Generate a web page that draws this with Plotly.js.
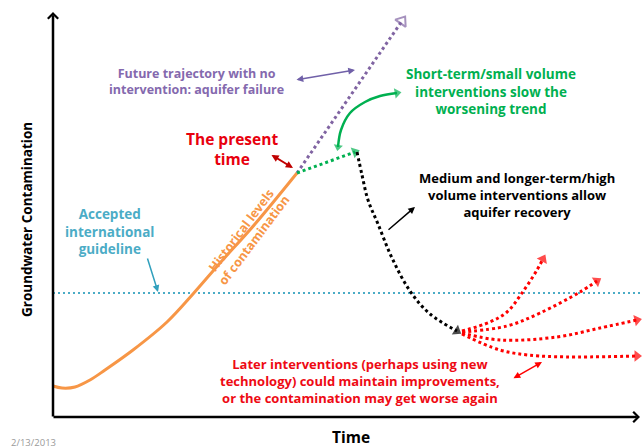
<!DOCTYPE html>
<html>
<head>
<meta charset="utf-8">
<script src="https://cdn.plot.ly/plotly-3.0.1.min.js"></script>
<style>html,body{margin:0;padding:0;background:#fff;}#chart{width:642px;height:448px;}</style>
</head>
<body>
<div id="chart"></div>
<script>
// Conceptual chart: time (x) vs groundwater contamination (y), arbitrary units from the axes origin
const historyTime  = [0, 9, 22, 37, 52, 80, 114, 140, 167, 202, 244];
const historyLevel = [31, 29, 30, 37, 47, 67, 95, 123, 154, 193, 244];

const guidelineTime  = [0, 589];
const guidelineLevel = [124, 124];

const noActionTime  = [244, 349];
const noActionLevel = [244, 396];

const shortTermTime  = [244, 302];
const shortTermLevel = [244, 265];

const recoveryTime  = [304, 309, 315, 325, 339, 357, 377, 404];
const recoveryLevel = [265, 242, 217, 193, 159, 126, 103, 86];

const laterA_Time  = [409, 437, 454, 469, 484, 490];
const laterA_Level = [86, 95, 105, 124, 147, 158];
const laterB_Time  = [409, 454, 487, 527, 544];
const laterB_Level = [85, 91, 104, 125, 136];
const laterC_Time  = [409, 447, 504, 547, 584];
const laterC_Level = [84, 77, 80, 89, 97];
const laterD_Time  = [409, 447, 487, 584];
const laterD_Level = [83, 67, 61, 61];

const greenHookTime  = [285, 288, 297, 312, 327, 344];
const greenHookLevel = [270, 287, 304, 315, 321, 324];

const labels = {
  future: 'Future trajectory with no<br>intervention: aquifer failure',
  shortTerm: 'Short-term/small volume<br>interventions slow the<br>worsening trend',
  present: 'The present<br>time',
  medium: 'Medium and longer-term/high<br>volume interventions allow<br>aquifer recovery',
  guideline: 'Accepted<br>international<br>guideline',
  history: 'Historical levels<br>of contamination',
  later: 'Later interventions (perhaps using new<br>technology) could maintain improvements,<br>or the contamination may get worse again',
  yTitle: 'Groundwater Contamination',
  xTitle: 'Time',
  date: '2/13/2013'
};

const C = {
  orange: '#f79646', blue: '#4bacc6', blueDark: '#31a0bd', purple: '#8064a2',
  green: '#00b050', red: '#ff0000', darkRed: '#c00000', black: '#000000'
};
const FONT = '"Open Sans", Lato, sans-serif';

function line(xs, ys, color, width, dash, shape) {
  return {x: xs, y: ys, mode: 'lines', type: 'scatter', hoverinfo: 'skip',
    line: {color: color, width: width, dash: dash || 'solid', shape: shape || 'linear', smoothing: 1}};
}
function head(xs, ys, color, size, symbol) {
  const n = xs.length;
  return {x: [xs[n-2], xs[n-1]], y: [ys[n-2], ys[n-1]], mode: 'markers', type: 'scatter', hoverinfo: 'skip',
    marker: {symbol: symbol || 'triangle-up', size: [0, size], color: color, angleref: 'previous',
      line: {color: color, width: symbol && symbol.indexOf('open') >= 0 ? 2 : 0}}};
}

const dotRed = '3px,3px';
const traces = [
  line(guidelineTime, guidelineLevel, C.blue, 2, '2px,3px'),
  line(historyTime, historyLevel, C.orange, 3, 'solid', 'spline'),
  line(noActionTime, noActionLevel, C.purple, 3, '3px,3px'),
  head(noActionTime, noActionLevel, C.purple, 11, 'triangle-up-open'),
  line(shortTermTime, shortTermLevel, C.green, 3, '3px,3px'),
  head(shortTermTime, shortTermLevel, C.green, 10),
  line(recoveryTime, recoveryLevel, C.black, 3, '3px,3px', 'spline'),
  head(recoveryTime, recoveryLevel, C.black, 10),
  line(laterA_Time, laterA_Level, C.red, 3, dotRed, 'spline'),
  head(laterA_Time, laterA_Level, C.red, 10),
  line(laterB_Time, laterB_Level, C.red, 3, dotRed, 'spline'),
  head(laterB_Time, laterB_Level, C.red, 10),
  line(laterC_Time, laterC_Level, C.red, 3, dotRed, 'spline'),
  head(laterC_Time, laterC_Level, C.red, 10),
  line(laterD_Time, laterD_Level, C.red, 3, dotRed, 'spline'),
  head(laterD_Time, laterD_Level, C.red, 10),
  line(greenHookTime, greenHookLevel, C.green, 2.5, 'solid', 'spline'),
  head(greenHookTime, greenHookLevel, C.green, 9),
  head(greenHookTime.slice(0,2).reverse(), greenHookLevel.slice(0,2).reverse(), C.green, 8)
];

function arrow(x0, y0, x1, y1, color, width, headStyle, size, both) {
  return {x: x1, y: y1, ax: x0, ay: y0, xref: 'x', yref: 'y', axref: 'x', ayref: 'y', text: '',
    showarrow: true, arrowcolor: color, arrowwidth: width, arrowhead: headStyle, arrowsize: size,
    arrowside: both ? 'end+start' : 'end', startarrowhead: headStyle, startarrowsize: size};
}
function text(x, y, t, color, size, extra) {
  return Object.assign({x: x, y: y, xref: 'x', yref: 'y', text: '<b>' + t.split('<br>').join('</b><br><b>') + '</b>', showarrow: false,
    font: {family: FONT, size: size, color: color, weight: 'bold'}, align: 'center',
    xanchor: 'center', yanchor: 'middle'}, extra || {});
}

const annotations = [
  arrow(0, -1, 0, 405, C.black, 2.5, 4, 0.8),
  arrow(-1, 0, 587, 0, C.black, 2.5, 4, 0.8),
  arrow(242, 337, 302, 347, '#7060a8', 1.5, 2, 0.9, true),
  arrow(217, 263, 240, 249, C.darkRed, 1.8, 2, 0.8, true),
  arrow(334, 186, 362, 210, C.black, 1.5, 2, 0.9),
  arrow(459, 38, 489, 55, C.red, 1.5, 2, 0.9, true),
  arrow(94, 160, 105, 125, C.blueDark, 1.5, 2, 0.9),
  text(143, 336, labels.future, '#8469ae', 12.5),
  text(438, 326, labels.shortTerm, C.green, 13.5),
  text(179, 268, labels.present, '#e8000e', 15.5),
  text(464, 222, labels.medium, C.black, 13),
  text(56, 186, labels.guideline, C.blue, 13.5),
  text(194, 182, labels.history, C.orange, 12.5, {textangle: -53}),
  text(307, 36, labels.later, '#ee0a14', 13),
  text(-26, 197, labels.yTitle, C.black, 13.5, {textangle: -90}),
  text(298, -20, labels.xTitle, C.black, 15.5),
  {x: -20, y: -25, xref: 'x', yref: 'y', text: labels.date, showarrow: false,
    font: {family: FONT, size: 9.5, color: '#9a9a9a'}, xanchor: 'center', yanchor: 'middle'}
];

const layout = {
  width: 642, height: 448,
  margin: {l: 0, r: 0, t: 0, b: 0},
  paper_bgcolor: '#ffffff', plot_bgcolor: '#ffffff',
  showlegend: false,
  xaxis: {range: [-53, 589], visible: false, fixedrange: true},
  yaxis: {range: [-31, 417], visible: false, fixedrange: true},
  annotations: annotations
};

Plotly.newPlot('chart', traces, layout, {staticPlot: true, displayModeBar: false});
</script>
</body>
</html>
